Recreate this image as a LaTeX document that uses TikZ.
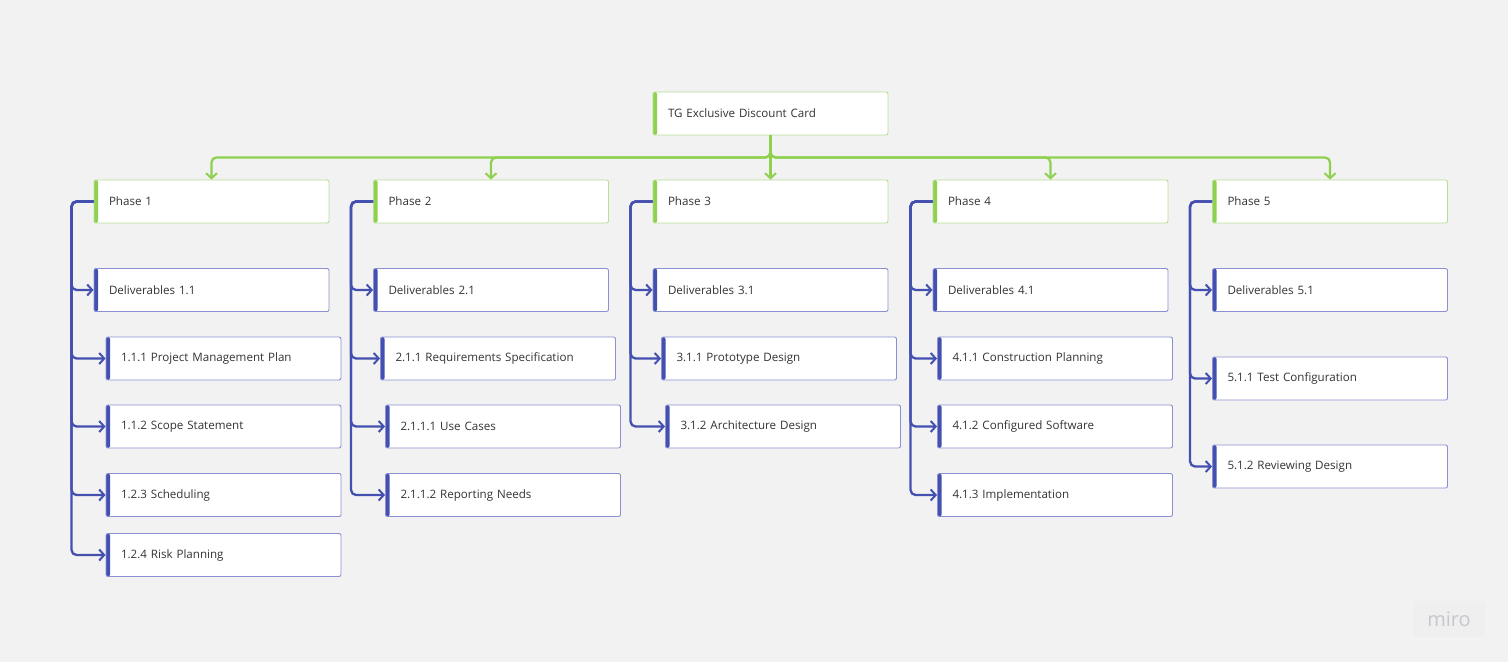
\documentclass[tikz,border=0pt]{standalone}
\usepackage{fontspec}
\setmainfont{Open Sans}
\usetikzlibrary{arrows.meta}
\definecolor{bg}{HTML}{F2F2F2}
\definecolor{wmbg}{HTML}{EFEFEF}
\definecolor{mgreen}{HTML}{8FD14F}
\definecolor{mgreenbd}{HTML}{B4DF94}
\definecolor{mblue}{HTML}{4450B0}
\definecolor{mbluebd}{HTML}{8A90D2}
\definecolor{txt}{HTML}{333333}
\definecolor{wm}{HTML}{C6C6D0}
\tikzset{
  x=1pt, y=-1pt,
  card/.style={rectangle, rounded corners=2pt, fill=white, line width=0.9pt,
    minimum width=235pt, minimum height=43pt, text width=205pt, align=left,
    inner xsep=15pt, text=txt, font=\fontsize{11.6}{13}\selectfont},
  gcard/.style={card, draw=mgreenbd, path picture={\fill[mgreen] (path picture bounding box.south west) rectangle ([xshift=4pt]path picture bounding box.north west);}},
  bcard/.style={card, draw=mbluebd, path picture={\fill[mblue] (path picture bounding box.south west) rectangle ([xshift=4pt]path picture bounding box.north west);}},
  garrow/.style={draw=mgreen, line width=2.3pt, rounded corners=5pt, -{Straight Barb[length=5pt,width=11pt,line width=2pt]}},
  barrow/.style={draw=mblue, line width=2.3pt, rounded corners=5pt, -{Straight Barb[length=5pt,width=11pt,line width=2pt]}},
}
\begin{document}
\begin{tikzpicture}
\fill[bg] (0,0) rectangle (1508,662);
\useasboundingbox (0,0) rectangle (1508,662);

% root and phases
\node[gcard] (root) at (770.5,113.5) {TG Exclusive Discount Card};
\node[gcard] (p1) at (211.5,201.5) {Phase 1};
\node[gcard] (p2) at (491,201.5) {Phase 2};
\node[gcard] (p3) at (770.5,201.5) {Phase 3};
\node[gcard] (p4) at (1050.5,201.5) {Phase 4};
\node[gcard] (p5) at (1330,201.5) {Phase 5};

% column 1
\node[bcard] (d1) at (211.5,290) {Deliverables 1.1};
\node[bcard] (c11) at (223.5,358.5) {1.1.1 Project Management Plan};
\node[bcard] (c12) at (223.5,426.5) {1.1.2 Scope Statement};
\node[bcard] (c13) at (223.5,495) {1.2.3 Scheduling};
\node[bcard] (c14) at (223.5,555) {1.2.4 Risk Planning};
% column 2
\node[bcard] (d2) at (491,290) {Deliverables 2.1};
\node[bcard] (c21) at (498,358.5) {2.1.1 Requirements Specification};
\node[bcard] (c22) at (503,426.5) {2.1.1.1 Use Cases};
\node[bcard] (c23) at (503,495) {2.1.1.2 Reporting Needs};
% column 3
\node[bcard] (d3) at (770.5,290) {Deliverables 3.1};
\node[bcard] (c31) at (779,358.5) {3.1.1 Prototype Design};
\node[bcard] (c32) at (783,426.5) {3.1.2 Architecture Design};
% column 4
\node[bcard] (d4) at (1050.5,290) {Deliverables 4.1};
\node[bcard] (c41) at (1055,358.5) {4.1.1 Construction Planning};
\node[bcard] (c42) at (1055,426.5) {4.1.2 Configured Software};
\node[bcard] (c43) at (1055,495) {4.1.3 Implementation};
% column 5
\node[bcard] (d5) at (1330,290) {Deliverables 5.1};
\node[bcard] (c51) at (1330,378.5) {5.1.1 Test Configuration};
\node[bcard] (c52) at (1330,466.5) {5.1.2 Reviewing Design};

% green connectors
\coordinate (bus) at ([yshift=-22pt]root.south);
\foreach \p in {p1,p2,p3,p4,p5}{
  \draw[garrow] (root.south) -- (bus) -| (\p.north);
}

% blue connectors
\foreach \ph/\kids in {p1/{d1,c11,c12,c13,c14}, p2/{d2,c21,c22,c23}, p3/{d3,c31,c32}, p4/{d4,c41,c42,c43}, p5/{d5,c51,c52}}{
  \foreach \k in \kids {
    \draw[barrow] (\ph.west) -- ++(-22,0) |- (\k.west);
  }
}

% watermark
\node[fill=wmbg, rounded corners=3pt, text=wm, font=\fontsize{20}{22}\selectfont, minimum width=72pt, minimum height=36pt] (mark) at (1449,619) {miro};
\end{tikzpicture}
\end{document}
